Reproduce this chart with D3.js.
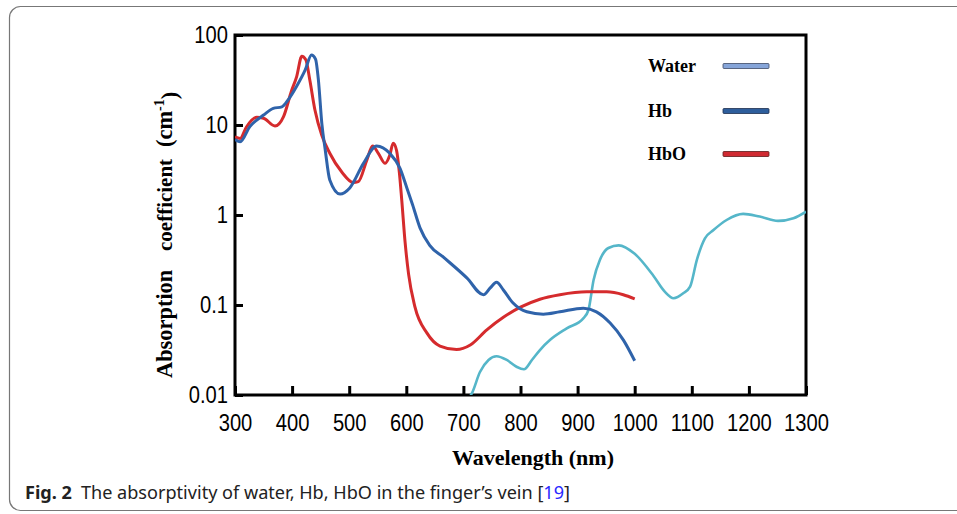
<!DOCTYPE html>
<html>
<head>
<meta charset="utf-8">
<script src="https://cdn.jsdelivr.net/npm/d3@7"></script>
<style>
  body { margin: 0; background: #fff; }
  svg { display: block; }
</style>
</head>
<body>
<div id="chart"></div>
<script>
// wavelength (nm) / absorption coefficient (cm^-1)
const hbData = [
  [300, 6.9], [309, 6.5], [326, 9.6], [350, 12.9], [367, 15.3], [382, 15.9], [393, 19],
  [408, 27], [423, 41], [434, 60], [441, 54], [446, 32], [452, 10.5], [458, 5.3],
  [466, 2.45], [484, 1.71], [501, 2.0], [525, 3.75], [548, 5.85], [571, 4.85], [589, 3.3],
  [601, 2.0], [611, 1.3], [624, 0.72], [641, 0.46], [665, 0.34], [706, 0.2], [735, 0.13],
  [747, 0.155], [758, 0.179], [770, 0.147], [787, 0.105], [811, 0.084], [840, 0.079],
  [869, 0.084], [910, 0.092], [933, 0.084], [957, 0.063], [980, 0.041], [1000, 0.024],
];
const hboData = [
  [300, 7.4], [309, 7.1], [320, 9.5], [338, 12.2], [350, 11.9], [370, 9.75], [385, 12.4],
  [399, 24], [408, 34.5], [417, 58], [424, 53], [431, 31.6], [440, 14.7], [452, 7.7],
  [466, 4.85], [487, 3.0], [507, 2.3], [516, 2.35], [531, 4.1], [541, 5.85], [551, 4.85],
  [563, 3.75], [571, 4.6], [577, 6.25], [583, 5.2], [588, 2.9], [592, 1.47], [598, 0.49],
  [604, 0.22], [615, 0.096], [636, 0.049], [659, 0.035], [688, 0.032], [712, 0.036],
  [741, 0.053], [770, 0.073], [799, 0.094], [834, 0.116], [869, 0.13], [916, 0.14],
  [951, 0.14], [980, 0.13], [1000, 0.117],
];
const waterData = [
  [711, 0.0095], [715, 0.0105], [729, 0.018], [744, 0.0245], [758, 0.027], [776, 0.0245],
  [793, 0.0206], [806, 0.0193], [820, 0.0245], [834, 0.0316], [852, 0.041], [881, 0.055],
  [910, 0.071], [919, 0.088], [928, 0.19], [939, 0.316], [954, 0.43], [972, 0.46],
  [1000, 0.37], [1033, 0.21], [1053, 0.14], [1068, 0.119], [1085, 0.135], [1097, 0.16],
  [1109, 0.32], [1123, 0.55], [1138, 0.68], [1161, 0.88], [1190, 1.03], [1219, 0.96],
  [1251, 0.86], [1278, 0.92], [1300, 1.09],
];
const xTicks = [300, 400, 500, 600, 700, 800, 900, 1000, 1100, 1200, 1300];
const yTicks = [0.01, 0.1, 1, 10, 100];
const legendNames = ['Water', 'Hb', 'HbO'];

const width = 957;
const height = 514;
const margin = { t: 35, r: 151, b: 119, l: 235 };

const colors = { Water: '#55b6c9', Hb: '#2f63aa', HbO: '#d52b2d' };
const legendFill = { Water: '#86a5d9', Hb: '#2e5e9c', HbO: '#d02a32' };
const legendStroke = { Water: '#3d4a66', Hb: '#1d2f4f', HbO: '#5e1b1b' };
const serif = '"Liberation Serif", "Times New Roman", serif';

const svg = d3.select('#chart')
  .append('svg')
  .attr('width', width)
  .attr('height', height);

// card border
svg.append('rect')
  .attr('x', 9.5).attr('y', 6.5)
  .attr('width', 1000).attr('height', 504)
  .attr('rx', 11)
  .attr('fill', 'none')
  .attr('stroke', '#777')
  .attr('stroke-width', 1.2);

const x = d3.scaleLinear().domain([300, 1300]).range([margin.l, width - margin.r]);
const y = d3.scaleLog().domain([0.01, 100]).range([height - margin.b, margin.t]);

svg.append('clipPath').attr('id', 'plotClip')
  .append('rect')
  .attr('x', x(300)).attr('y', y(100))
  .attr('width', x(1300) - x(300)).attr('height', y(0.01) - y(100));

// squeeze tick labels a bit, the original face is narrow
function narrow(sel, k) {
  sel.each(function () {
    const w = this.getComputedTextLength();
    d3.select(this).attr('textLength', w * k).attr('lengthAdjust', 'spacingAndGlyphs');
  });
}

const xAxis = svg.append('g')
  .attr('transform', `translate(0, ${y(0.01)})`)
  .call(d3.axisBottom(x).tickValues(xTicks).tickFormat(d3.format('d')).tickSize(-9).tickPadding(19));
const yAxis = svg.append('g')
  .attr('transform', `translate(${x(300)}, 0)`)
  .call(d3.axisLeft(y).tickValues(yTicks).tickFormat((d) => String(d)).tickSize(-8).tickPadding(7));

[xAxis, yAxis].forEach((g) => {
  g.select('.domain').remove();
  g.selectAll('.tick line').attr('stroke', '#000').attr('stroke-width', 3);
  g.selectAll('.tick text')
    .attr('fill', '#000')
    .style('font-family', '"Liberation Sans", Arial, sans-serif')
    .style('font-size', '24px')
    .call(narrow, 0.84);
});

// frame
svg.append('rect')
  .attr('x', x(300)).attr('y', y(100))
  .attr('width', x(1300) - x(300)).attr('height', y(0.01) - y(100))
  .attr('fill', 'none')
  .attr('stroke', '#000')
  .attr('stroke-width', 3);

const line = d3.line()
  .x((d) => x(d[0]))
  .y((d) => y(d[1]))
  .curve(d3.curveMonotoneX);

const plot = svg.append('g').attr('clip-path', 'url(#plotClip)');
plot.append('path').datum(waterData)
  .attr('d', line).attr('fill', 'none')
  .attr('stroke', colors.Water).attr('stroke-width', 2.6);
plot.append('path').datum(hboData)
  .attr('d', line).attr('fill', 'none')
  .attr('stroke', colors.HbO).attr('stroke-width', 3);
plot.append('path').datum(hbData)
  .attr('d', line).attr('fill', 'none')
  .attr('stroke', colors.Hb).attr('stroke-width', 3);

// legend
const legendY = [66, 111, 154];
const legend = svg.append('g');
legendNames.forEach((name, i) => {
  legend.append('text')
    .attr('x', 648).attr('y', legendY[i])
    .attr('dy', '0.35em')
    .style('font-family', serif)
    .style('font-weight', 'bold')
    .style('font-size', '18px')
    .text(name);
  legend.append('rect')
    .attr('x', 723).attr('y', legendY[i] - 2.5)
    .attr('width', 46).attr('height', 5)
    .attr('rx', 1)
    .attr('fill', legendFill[name])
    .attr('stroke', legendStroke[name])
    .attr('stroke-width', 0.8);
});

// axis titles
svg.append('text')
  .attr('x', 533).attr('y', 465)
  .attr('text-anchor', 'middle')
  .style('font-family', serif)
  .style('font-weight', 'bold')
  .style('font-size', '22px')
  .text('Wavelength (nm)');

// rotated: x runs upward, so x = -pageY
const yTitle = svg.append('text')
  .attr('transform', 'translate(172, 0) rotate(-90)')
  .style('font-family', serif)
  .style('font-weight', 'bold')
  .style('font-size', '22.4px');
yTitle.append('tspan').attr('x', -378).text('Absorption');
yTitle.append('tspan').attr('x', -251).style('font-size', '21px').text('coefficient');
yTitle.append('tspan').attr('x', -147).text('(cm');
yTitle.append('tspan').attr('dy', '-0.55em').style('font-size', '14px').text('-1');
yTitle.append('tspan').attr('dy', '0.55em').text(')');

// caption
const caption = svg.append('text')
  .attr('x', 25).attr('y', 499)
  .style('font-family', '"Noto Sans", "Open Sans", sans-serif')
  .style('font-size', '18.1px')
  .attr('fill', '#222');
caption.append('tspan').style('font-weight', 'bold').text('Fig. 2');
caption.append('tspan').attr('dx', 9).text('The absorptivity of water, Hb, HbO in the finger\u2019s vein [');
caption.append('tspan').attr('fill', '#2a2aff').text('19');
caption.append('tspan').text(']');
</script>
</body>
</html>
